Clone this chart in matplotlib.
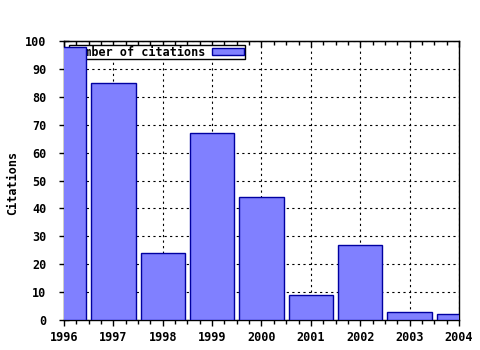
#! /usr/bin/env python3

import matplotlib.pyplot as plt
from matplotlib.ticker import MultipleLocator

## Données

annees    = [1996, 1997, 1998, 1999, 2000, 2001, 2002, 2003, 2004]
citations = [98, 85, 24, 67, 44, 9, 27, 3, 2]
etiquette = "Number of citations"

police = {"family": "DejaVu Sans Mono", "weight": "bold", "size": 8.5}

## Figure

fig = plt.figure(figsize=(4.8, 3.5), dpi=100)
ax = fig.add_axes([0.1333, 0.0857, 0.8229, 0.7971])

ax.bar(annees, citations, width=0.9, color="#8080ff", edgecolor="#0000a0",
       linewidth=1, label=etiquette, zorder=3)

ax.set_xlim(1996, 2004)
ax.set_ylim(0, 100)
ax.xaxis.set_major_locator(MultipleLocator(1))
ax.xaxis.set_minor_locator(MultipleLocator(0.25))
ax.yaxis.set_major_locator(MultipleLocator(10))

ax.grid(True, which="major", color="black", linestyle=(0, (2, 3)),
        linewidth=0.8, zorder=0)
ax.set_axisbelow(True)

# bas : graduations vers l'extérieur, gauche : de part et d'autre
ax.tick_params(axis="x", which="major", direction="out", length=4, width=1, pad=4)
ax.tick_params(axis="x", which="minor", direction="out", length=3, width=1)
ax.tick_params(axis="y", which="major", direction="inout", length=7, width=1,
               right=False, pad=9)
ax.tick_params(axis="y", which="minor", left=False)

# haut : graduations vers l'intérieur
haut = ax.secondary_xaxis("top")
haut.xaxis.set_major_locator(MultipleLocator(1))
haut.xaxis.set_minor_locator(MultipleLocator(0.25))
haut.tick_params(which="major", direction="in", length=4, width=1, labeltop=False)
haut.tick_params(which="minor", direction="in", length=3, width=1)

for lab in ax.get_xticklabels() + ax.get_yticklabels():
    lab.set_fontproperties(police)

ax.set_ylabel("Citations", fontdict=police)
ax.yaxis.set_label_coords(-0.114, 0.49)

for s in ax.spines.values():
    s.set_linewidth(1)

leg = ax.legend(loc="upper left", bbox_to_anchor=(0.0127, 0.985),
                markerfirst=False, fancybox=False, framealpha=1,
                edgecolor="black", borderpad=0.05, handlelength=2.7,
                handleheight=0.6, handletextpad=0.6, borderaxespad=0,
                prop=police)
leg.get_frame().set_linewidth(1)
leg.set_zorder(2)

fig.savefig("out.png")
